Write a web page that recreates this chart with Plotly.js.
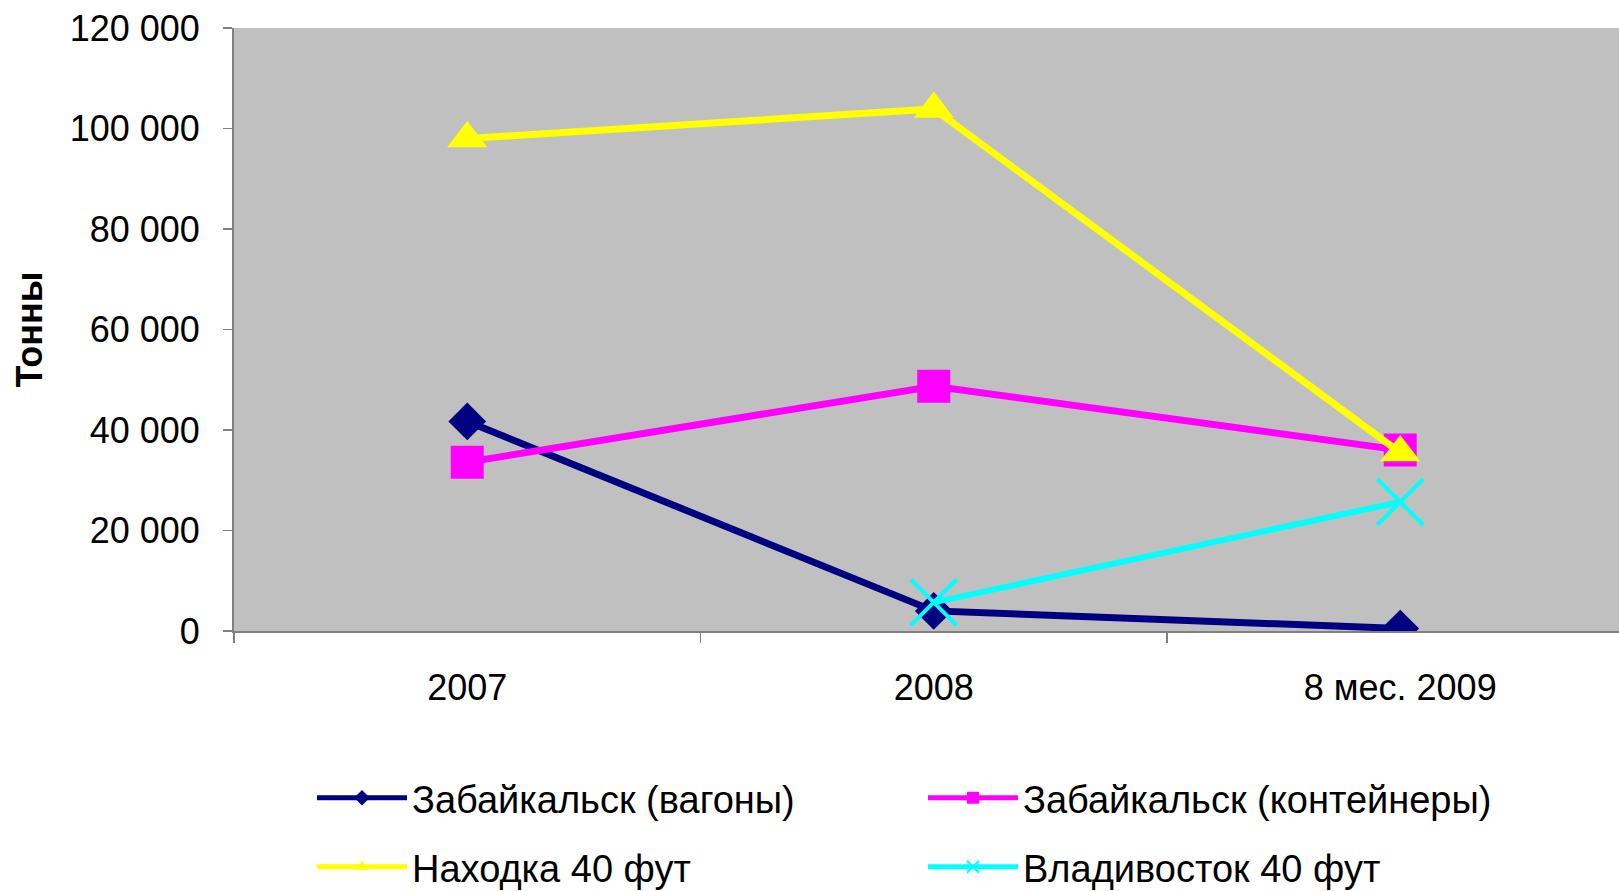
<!DOCTYPE html>
<html>
<head>
<meta charset="utf-8">
<script src="https://cdn.plot.ly/plotly-3.0.1.min.js"></script>
<style>html,body{margin:0;padding:0;background:#fff;}#chart{width:1619px;height:891px;}</style>
</head>
<body>
<div id="chart"></div>
<script>
const categories = ["2007", "2008", "8 мес. 2009"];
const seriesNames = ["Забайкальск (вагоны)", "Забайкальск (контейнеры)", "Находка 40 фут", "Владивосток 40 фут"];
const zabVagony = [41700, 4000, 500];
const zabKont = [33600, 48700, 36000];
const nakhodka = [98000, 103900, 35500];
const vladivostok = [null, 5700, 25700];
const yTicks = [0, 20000, 40000, 60000, 80000, 100000, 120000];

const FONT = "Liberation Sans, Arial, sans-serif";

const traces = [
  {name: seriesNames[0], x: categories, y: zabVagony, type: "scatter", mode: "lines+markers",
   line: {color: "#000080", width: 7}, marker: {symbol: "diamond", size: 29, color: "#000080"}, legend: "legend"},
  {name: seriesNames[1], x: categories, y: zabKont, type: "scatter", mode: "lines+markers",
   line: {color: "#FF00FF", width: 7}, marker: {symbol: "square", size: 33, color: "#FF00FF"}, legend: "legend"},
  {name: seriesNames[2], x: categories, y: nakhodka, type: "scatter", mode: "lines+markers",
   line: {color: "#FFFF00", width: 7}, marker: {symbol: "triangle-up", size: 35, color: "#FFFF00"}, legend: "legend2"},
  {name: seriesNames[3], x: categories, y: vladivostok, type: "scatter", mode: "lines+markers",
   line: {color: "#00FFFF", width: 6}, marker: {symbol: "x-thin", size: 46, color: "#00FFFF", line: {color: "#00FFFF", width: 4}}, legend: "legend2"}
];

const legendCommon = {
  orientation: "h", xref: "container", yref: "container", xanchor: "left", yanchor: "middle",
  font: {family: FONT, size: 38, color: "#000"}, entrywidth: 506, itemwidth: 90,
  bgcolor: "rgba(0,0,0,0)", itemsizing: "constant"
};

const layout = {
  width: 1619, height: 891,
  margin: {l: 234, r: 0, t: 28, b: 260, pad: 0},
  paper_bgcolor: "#FFFFFF", plot_bgcolor: "#C0C0C0",
  separators: ", ",
  font: {family: FONT, size: 36, color: "#000"},
  showlegend: true,
  legend: Object.assign({}, legendCommon, {x: 312/1619, y: 1 - 798/891}),
  legend2: Object.assign({}, legendCommon, {x: 312/1619, y: 1 - 867/891}),
  xaxis: {
    type: "category", range: [-0.5, 2.469], tickson: "boundaries",
    ticks: "outside", ticklen: 10, tickwidth: 1.5, tickcolor: "#808080",
    showline: true, linecolor: "#808080", linewidth: 2, showgrid: false, zeroline: false,
    tickfont: {family: FONT, size: 36, color: "#000"}, ticklabelstandoff: 24
  },
  yaxis: {
    range: [0, 120000], tickvals: yTicks, tickformat: ",d",
    ticks: "outside", ticklen: 9, tickwidth: 1.5, tickcolor: "#808080",
    showline: true, linecolor: "#808080", linewidth: 2, showgrid: false, zeroline: false,
    tickfont: {family: FONT, size: 36, color: "#000"}, ticklabelstandoff: 16,
    title: {text: "<b>Тонны</b>", font: {family: FONT, size: 36, color: "#000"}, standoff: 16}
  }
};

Plotly.newPlot("chart", traces, layout, {displayModeBar: false, staticPlot: true});
</script>
</body>
</html>
